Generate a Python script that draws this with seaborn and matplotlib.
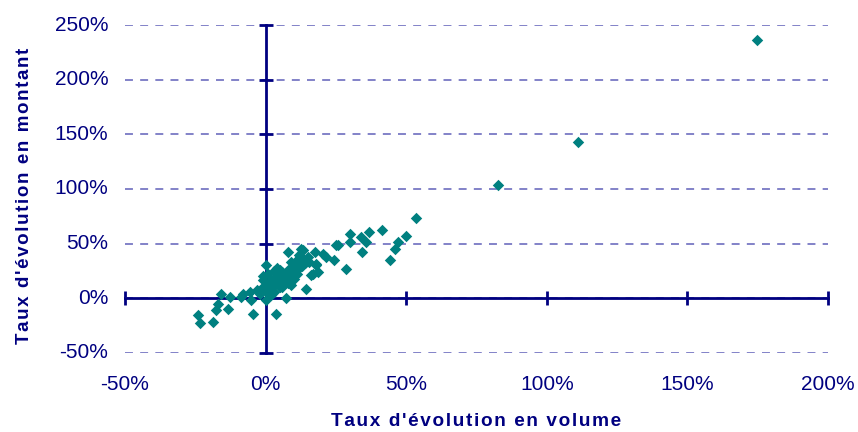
import matplotlib
matplotlib.use("Agg")
import matplotlib.pyplot as plt
import seaborn as sns

###############################################################################
# Data (percent values)
###############################################################################
volume_pct = [
    174.6, 111.0, 82.5,
    53.6, 50.0, 47.0, 45.9, 44.3, 41.4, 36.6, 34.0, 35.8, 34.3,
    30.1, 29.9, 28.7, 25.7, 24.5, 21.6, 20.4, 17.4, 18.0, 18.6, 16.8,
    14.5, 13.3, 12.7, 11.5, 10.3, 7.9, 7.4, 8.5, 5.0, 3.8, 3.8,
    0.2, 0.2, -1.0, -1.5, -4.5, -5.1, -5.7, -8.1, -8.6, -12.8, -13.4,
    -15.8, -17.0, -17.5, -18.7, -24.1, -23.2,
    12.7, 15.6, 18.0, 16.2, 25.0,
    1.0, 2.0, 3.0, 4.0, 5.0, 6.0, 7.0, 8.0, 9.0, 10.0,
    0.0, -1.0, 1.0, 2.0, 3.0, 4.0, 5.0, 6.0, 7.0, 8.0,
    9.0, 10.0, 11.0, 12.0, 13.0, 1.0, 0.0, 2.0, 3.0, -2.0,
    -3.0, 4.0, 6.0, 11.0, 12.0, 13.0, 14.0, 15.0, 9.0, 10.0,
]
montant_pct = [
    236.0, 143.0, 104.0,
    73.9, 56.8, 51.6, 45.5, 34.8, 62.9, 60.7, 56.1, 51.6, 42.4,
    59.2, 51.6, 27.2, 48.5, 34.8, 37.8, 40.3, 42.4, 31.8, 24.1, 22.6,
    8.9, 44.0, 37.8, 31.8, 27.2, 42.4, 0.0, 19.5, 25.6, 19.5, -14.0,
    30.2, -1.8, 16.5, 8.9, -14.0, -1.8, 5.8, 4.3, 1.2, 1.2, -9.4,
    4.3, -4.9, -11.0, -21.7, -15.6, -22.6,
    45.5, 33.2, 30.2, 21.0, 48.5,
    5.0, 8.0, 12.0, 15.0, 10.0, 18.0, 22.0, 14.0, 20.0, 25.0,
    12.0, 20.0, 22.0, 16.0, 25.0, 20.0, 14.0, 10.0, 17.0, 26.0,
    12.0, 18.0, 22.0, 28.0, 30.0, 10.0, 8.0, 3.0, 6.0, 4.0,
    8.0, 28.0, 24.0, 35.0, 40.0, 36.0, 32.0, 38.0, 33.0, 30.0,
]

x_ticks = [-50, 0, 50, 100, 150, 200]
y_ticks = [-50, 0, 50, 100, 150, 200, 250]

x_title = "Taux d'évolution en volume"
y_title = "Taux d'évolution en montant"

navy = "#000080"
teal = "#008080"


def spaced(s):
    # the reference titles are letter-spaced; hair spaces mimic that
    return "\u200a".join(s)


###############################################################################
# Plot
###############################################################################
sns.set_style("white")
plt.rcParams["font.family"] = ["Liberation Sans", "DejaVu Sans"]

fig = plt.figure(figsize=(8.58, 4.32), dpi=100)
ax = fig.add_axes([0.1457, 0.1829, 0.8193, 0.7592])

sns.scatterplot(x=volume_pct, y=montant_pct, marker="D", color=teal,
                s=34, linewidth=0, ax=ax, zorder=3)

ax.set_xlim(-50, 200)
ax.set_ylim(-50, 250)
ax.set_xticks(x_ticks)
ax.set_yticks(y_ticks)

# dashed horizontal gridlines
ax.yaxis.grid(True, linestyle=(0, (4.4, 4.0)), color="#7878c4", linewidth=1.3)
ax.xaxis.grid(False)
ax.set_axisbelow(True)

# axes crossing at zero
for side in ["top", "right"]:
    ax.spines[side].set_visible(False)
for side in ["left", "bottom"]:
    ax.spines[side].set_position(("data", 0))
    ax.spines[side].set_color(navy)
    ax.spines[side].set_linewidth(2)
    ax.spines[side].set_zorder(2)

ax.tick_params(bottom=True, left=True, direction="inout", length=9.5, width=2,
               color=navy, labelleft=False, labelbottom=False)

# tick labels sit at the plot edges, not on the zero axes
for v in y_ticks:
    ax.text(-0.024, v, f"{v}%", transform=ax.get_yaxis_transform(),
            ha="right", va="center", fontsize=15, color=navy)
for v in x_ticks:
    ax.text(v, -0.096, f"{v}%", transform=ax.get_xaxis_transform(),
            ha="center", va="center", fontsize=15, color=navy)

fig.text(0.555, 0.025, spaced(x_title), ha="center", va="center",
         fontsize=13.7, fontweight="bold", color=navy)
fig.text(0.028, 0.546, spaced(y_title), ha="center", va="center",
         rotation=90, fontsize=13.5, fontweight="bold", color=navy)

fig.savefig("out.png", dpi=100)
